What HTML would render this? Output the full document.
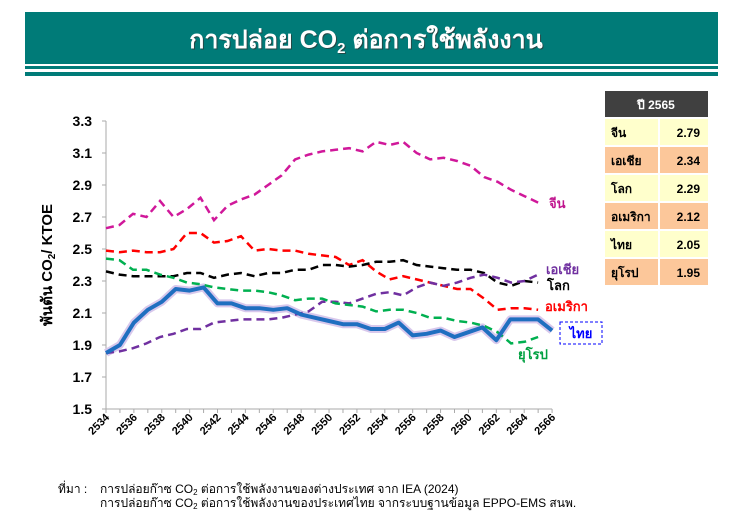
<!DOCTYPE html>
<html><head><meta charset="utf-8"><style>
body{margin:0;background:#fff;width:740px;height:524px;overflow:hidden;font-family:"Liberation Sans","Noto Sans CJK SC",sans-serif}
</style></head><body>
<svg width="740" height="524" xmlns="http://www.w3.org/2000/svg" font-family="Liberation Sans, Noto Sans CJK SC, sans-serif">
<rect x="25" y="12" width="693" height="52" fill="#007b78"/>
<rect x="25" y="66" width="693" height="3" fill="#007b78"/>
<rect x="25" y="72" width="693" height="4" fill="#007b78"/>
<text x="367" y="49" text-anchor="middle" font-size="25" font-weight="bold" fill="#333" opacity="0.7">การปล่อย CO<tspan font-size="15" dy="5">2</tspan><tspan dy="-5"> ต่อการใช้พลังงาน</tspan></text>
<text x="366" y="48" text-anchor="middle" font-size="25" font-weight="bold" fill="#fff">การปล่อย CO<tspan font-size="15" dy="5">2</tspan><tspan dy="-5"> ต่อการใช้พลังงาน</tspan></text>
<g id="plot"></g>
<g font-size="14" font-weight="bold" text-anchor="end" fill="#000">
<text x="92" y="126">3.3</text><text x="92" y="158">3.1</text><text x="92" y="190">2.9</text><text x="92" y="222">2.7</text><text x="92" y="254">2.5</text><text x="92" y="286">2.3</text><text x="92" y="318">2.1</text><text x="92" y="350">1.9</text><text x="92" y="382">1.7</text><text x="92" y="414">1.5</text>
</g>
<text transform="translate(52,265) rotate(-90)" text-anchor="middle" font-size="15" font-weight="bold">พันตัน CO<tspan font-size="10" dy="3">2</tspan><tspan dy="-3">/ KTOE</tspan></text>
<text x="549" y="208" font-size="13" font-weight="bold" fill="#c0168f">จีน</text>
<text x="546" y="274" font-size="13" font-weight="bold" fill="#7030a0">เอเชีย</text>
<text x="547" y="290" font-size="13" font-weight="bold" fill="#000">โลก</text>
<text x="545" y="311" font-size="13" font-weight="bold" fill="#f00">อเมริกา</text>
<rect x="560" y="322" width="42" height="22" fill="#fff" stroke="#00f" stroke-dasharray="3,2"/>
<text x="581" y="338" font-size="13" font-weight="bold" fill="#00f" text-anchor="middle">ไทย</text>
<text x="518" y="359" font-size="13" font-weight="bold" fill="#00a040">ยุโรป</text>
<rect x="605" y="91" width="103" height="26" fill="#404040"/>
<text x="656" y="109" text-anchor="middle" font-size="12" font-weight="bold" fill="#fff">ปี 2565</text>
<g font-size="12" font-weight="bold">
<rect x="605" y="119" width="53" height="26" fill="#ffffcc"/><rect x="660" y="119" width="48" height="26" fill="#ffffcc"/><text x="611" y="137">จีน</text><text x="700" y="137" text-anchor="end">2.79</text>
<rect x="605" y="147" width="53" height="26" fill="#fcc79a"/><rect x="660" y="147" width="48" height="26" fill="#fcc79a"/><text x="611" y="165">เอเชีย</text><text x="700" y="165" text-anchor="end">2.34</text>
<rect x="605" y="175" width="53" height="26" fill="#ffffcc"/><rect x="660" y="175" width="48" height="26" fill="#ffffcc"/><text x="611" y="193">โลก</text><text x="700" y="193" text-anchor="end">2.29</text>
<rect x="605" y="203" width="53" height="26" fill="#fcc79a"/><rect x="660" y="203" width="48" height="26" fill="#fcc79a"/><text x="611" y="221">อเมริกา</text><text x="700" y="221" text-anchor="end">2.12</text>
<rect x="605" y="231" width="53" height="26" fill="#ffffcc"/><rect x="660" y="231" width="48" height="26" fill="#ffffcc"/><text x="611" y="249">ไทย</text><text x="700" y="249" text-anchor="end">2.05</text>
<rect x="605" y="259" width="53" height="26" fill="#fcc79a"/><rect x="660" y="259" width="48" height="26" fill="#fcc79a"/><text x="611" y="277">ยุโรป</text><text x="700" y="277" text-anchor="end">1.95</text>
</g>
<g font-size="12" fill="#000">
<text x="58" y="493">ที่มา :</text>
<text x="100" y="493">การปล่อยก๊าซ CO<tspan font-size="8" dy="2">2</tspan><tspan dy="-2"> ต่อการใช้พลังงานของต่างประเทศ จาก IEA (2024)</tspan></text>
<text x="100" y="507">การปล่อยก๊าซ CO<tspan font-size="8" dy="2">2</tspan><tspan dy="-2"> ต่อการใช้พลังงานของประเทศไทย จากระบบฐานข้อมูล EPPO-EMS สนพ.</tspan></text>
</g>
</svg>
<script>
const X0=106,DX=13.94,Y=v=>121+(3.3-v)*160;
const data={
china:[2.63,2.65,2.72,2.70,2.80,2.70,2.75,2.82,2.68,2.77,2.81,2.84,2.90,2.96,3.06,3.09,3.11,3.12,3.13,3.11,3.17,3.15,3.17,3.10,3.06,3.07,3.05,3.02,2.95,2.92,2.87,2.83,2.79],
usa:[2.49,2.48,2.49,2.48,2.48,2.50,2.60,2.60,2.54,2.55,2.58,2.49,2.50,2.49,2.49,2.47,2.46,2.45,2.40,2.43,2.36,2.31,2.33,2.31,2.29,2.27,2.25,2.25,2.19,2.12,2.13,2.13,2.12],
world:[2.36,2.34,2.33,2.33,2.33,2.33,2.35,2.35,2.32,2.34,2.35,2.33,2.35,2.35,2.37,2.37,2.40,2.40,2.39,2.40,2.42,2.42,2.43,2.40,2.39,2.38,2.37,2.37,2.35,2.29,2.27,2.30,2.29],
asia:[1.85,1.86,1.88,1.91,1.95,1.97,2.00,2.00,2.04,2.05,2.06,2.06,2.06,2.07,2.09,2.11,2.17,2.17,2.16,2.19,2.22,2.23,2.21,2.26,2.29,2.27,2.29,2.32,2.34,2.32,2.29,2.30,2.34],
eu:[2.44,2.43,2.37,2.37,2.34,2.32,2.29,2.28,2.26,2.25,2.24,2.24,2.23,2.21,2.18,2.19,2.19,2.16,2.15,2.14,2.11,2.12,2.12,2.10,2.07,2.07,2.05,2.04,2.02,1.98,1.91,1.92,1.95],
thai:[1.85,1.90,2.04,2.12,2.17,2.25,2.24,2.26,2.16,2.16,2.13,2.13,2.12,2.13,2.09,2.07,2.05,2.03,2.03,2.00,2.00,2.04,1.96,1.97,1.99,1.95,1.98,2.01,1.93,2.06,2.06,2.06,1.99]};
const ns="http://www.w3.org/2000/svg",g=document.getElementById('plot');
function el(t,a){const e=document.createElementNS(ns,t);for(const k in a)e.setAttribute(k,a[k]);g.appendChild(e);return e;}
el('line',{x1:X0,y1:121,x2:X0,y2:409,stroke:'#aaa'});
el('line',{x1:X0,y1:409,x2:X0+32*DX,y2:409,stroke:'#aaa'});
for(let i=0;i<=9;i++)el('line',{x1:X0-4,x2:X0,y1:121+i*32,y2:121+i*32,stroke:'#aaa'});
for(let i=0;i<=32;i++){const x=X0+i*DX;el('line',{x1:x,x2:x,y1:409,y2:413,stroke:'#aaa'});
 if(i%2==0){const t=el('text',{transform:`translate(${x+4},${418}) rotate(-45)`,'text-anchor':'end','font-size':'11','font-weight':'bold'});t.textContent=2534+i;}}
const pts=(a,dx)=>a.map((v,i)=>(X0+i*dx).toFixed(1)+','+Y(v).toFixed(1)).join(' ');
const st=[['china','#d0189a'],['usa','#ff0000'],['world','#000'],['asia','#7030a0'],['eu','#00b050']];
el('polyline',{points:pts(data.thai,DX),fill:'none',stroke:'#d8c8ec',"stroke-width":8,"stroke-linejoin":'round'});
for(const [k,c] of st)el('polyline',{points:pts(data[k],DX*31/32),fill:'none',stroke:c,"stroke-width":2.5,"stroke-dasharray":'8,5'});
el('polyline',{points:pts(data.thai,DX),fill:'none',stroke:'#1f6fc0',"stroke-width":4,"stroke-linejoin":'round'});
</script>
</body></html>
